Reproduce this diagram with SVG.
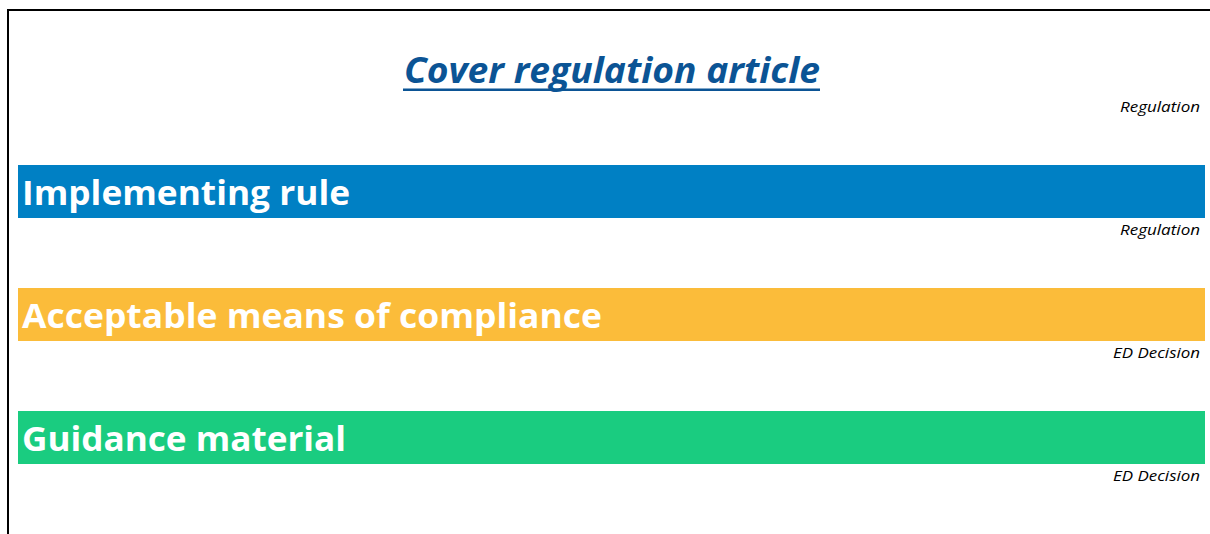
<svg xmlns="http://www.w3.org/2000/svg" width="1210" height="534" viewBox="0 0 1210 534">
<style>
.frame{fill:none;stroke:#000;stroke-width:2}
.bartxt{font-family:"Open Sans","Liberation Sans",sans-serif;font-weight:bold;font-size:34px;fill:#fff}
.src{font-family:"Open Sans","Liberation Sans",sans-serif;font-style:italic;font-size:15px;fill:#000;text-anchor:end}
.title{font-family:"Open Sans","Liberation Sans",sans-serif;font-style:italic;font-weight:bold;font-size:35px;fill:#0B5495;text-anchor:middle}
</style>
<rect width="1210" height="534" fill="#fff"/>
<path class="frame" d="M8 534 V10 H1210"/>
<g id="title">
<text class="title" x="612" y="83" textLength="416" lengthAdjust="spacingAndGlyphs">Cover regulation article</text>
<rect x="403" y="88.5" width="417" height="2.5" fill="#0B5495"/>
<text class="src" x="1200" y="112" textLength="80" lengthAdjust="spacingAndGlyphs">Regulation</text>
</g>
<g id="implementing-rule">
<rect x="18" y="165" width="1187" height="53" fill="#0080C4"/>
<text class="bartxt" x="22" y="205" textLength="328" lengthAdjust="spacingAndGlyphs">Implementing rule</text>
<text class="src" x="1200" y="235" textLength="80" lengthAdjust="spacingAndGlyphs">Regulation</text>
</g>
<g id="amc">
<rect x="18" y="288" width="1187" height="53" fill="#FBBC3A"/>
<text class="bartxt" x="22" y="328" textLength="580" lengthAdjust="spacingAndGlyphs">Acceptable means of compliance</text>
<text class="src" x="1200" y="358" textLength="87" lengthAdjust="spacingAndGlyphs">ED Decision</text>
</g>
<g id="gm">
<rect x="18" y="411" width="1187" height="53" fill="#1ACC80"/>
<text class="bartxt" x="22" y="451" textLength="324" lengthAdjust="spacingAndGlyphs">Guidance material</text>
<text class="src" x="1200" y="481" textLength="87" lengthAdjust="spacingAndGlyphs">ED Decision</text>
</g>
<g id="connectors"></g>
</svg>
